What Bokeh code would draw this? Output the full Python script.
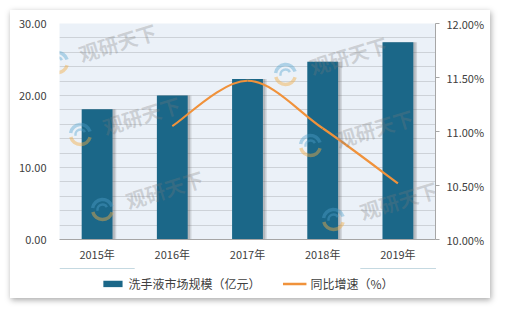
import numpy as np
from bokeh.plotting import figure
from bokeh.layouts import column
from bokeh.models import (Range1d, LinearAxis, FixedTicker, PrintfTickFormatter,
                          Legend, LegendItem, ColumnDataSource)
from bokeh.transform import dodge
from bokeh.core.properties import value
from bokeh.embed import file_html
from bokeh.resources import INLINE

# ---- data ----
years = ["2015年", "2016年", "2017年", "2018年", "2019年"]
market = [18.1, 20.0, 22.3, 24.7, 27.4]          # 洗手液市场规模（亿元）
growth_idx = [1, 2, 3, 4]                          # years that have growth data
growth = [11.05, 11.47, 11.03, 10.52]              # 同比增速（%）
left_ticks = [0, 10, 20, 30]
right_ticks = [10.0, 10.5, 11.0, 11.5, 12.0]
legend_labels = ["洗手液市场规模（亿元）", "同比增速（%）"]

FONT = "Noto Sans CJK SC"
BAR_COLOR = "#1B6788"
LINE_COLOR = "#F0923B"

# watermark decoration (page pixel positions)
wm_text_x = [117, 141, 164, 348, 374, 398]
wm_text_y = [42, 115, 189, 55, 128, 200]
wm_logo_x = [57, 80, 102, 285, 310, 333]
wm_logo_y = [62, 134, 209, 74, 145, 219]

p = figure(width=480, height=258, x_range=Range1d(-0.5, 4.5), y_range=Range1d(0, 30),
           output_backend="svg", toolbar_location=None,
           min_border_left=49, min_border_right=55, min_border_top=13, min_border_bottom=29)
p.outline_line_color = None
p.background_fill_color = "#EBF1F8"
p.border_fill_color = "white"

xs = list(range(len(years)))
src = ColumnDataSource(dict(x=xs, top=market))

# bar shadows
p.vbar(x=dodge("x", 0.035, range=p.x_range), top="top", width=0.44, source=src,
       fill_color="#555555", fill_alpha=0.18, line_color=None)
p.vbar(x=dodge("x", 0.02, range=p.x_range), top="top", width=0.43, source=src,
       fill_color="#555555", fill_alpha=0.22, line_color=None)
bars = p.vbar(x="x", top="top", width=0.41, source=src,
              fill_color=BAR_COLOR, line_color=None)

# extra ranges
p.extra_y_ranges = {"pct": Range1d(10, 12),
                    "py": Range1d(239, 23)}
p.extra_x_ranges = {"px": Range1d(59, 435)}

# smooth curve (Catmull-Rom -> cubic Bezier)
P = np.array([[float(i), g] for i, g in zip(growth_idx, growth)])
n = len(P)
x0, y0, x1, y1, cx0, cy0, cx1, cy1 = ([] for _ in range(8))
for i in range(n - 1):
    p0 = P[i - 1] if i > 0 else P[i]
    p1 = P[i]
    p2 = P[i + 1]
    p3 = P[i + 2] if i + 2 < n else P[i + 1]
    c0 = p1 + (p2 - p0) / 6.0
    c1 = p2 - (p3 - p1) / 6.0
    x0.append(p1[0]); y0.append(p1[1]); x1.append(p2[0]); y1.append(p2[1])
    cx0.append(c0[0]); cy0.append(c0[1]); cx1.append(c1[0]); cy1.append(c1[1])
p.bezier(x0=x0, y0=y0, x1=x1, y1=y1, cx0=cx0, cy0=cy0, cx1=cx1, cy1=cy1,
         line_color=LINE_COLOR, line_width=2.2, y_range_name="pct")

# watermarks
p.text(x=wm_text_x, y=wm_text_y, text=["观研天下"] * len(wm_text_x), angle=0.3,
       x_range_name="px", y_range_name="py", text_font=value(FONT),
       text_font_style="bold", text_font_size="20px", text_color="#7A7A7A",
       text_alpha=0.28, text_align="center", text_baseline="middle")
p.arc(x=wm_logo_x, y=wm_logo_y, radius=10, radius_units="screen",
      start_angle=0.3, end_angle=3.0, x_range_name="px", y_range_name="py",
      line_color="#4FA3CC", line_width=3.5, line_alpha=0.4)
p.arc(x=wm_logo_x, y=wm_logo_y, radius=5, radius_units="screen",
      start_angle=0.5, end_angle=3.4, x_range_name="px", y_range_name="py",
      line_color="#4FA3CC", line_width=2.5, line_alpha=0.4)
p.arc(x=wm_logo_x, y=wm_logo_y, radius=10, radius_units="screen",
      start_angle=3.4, end_angle=6.0, x_range_name="px", y_range_name="py",
      line_color="#F2AE45", line_width=3.5, line_alpha=0.45)

# axes
p.xaxis.ticker = FixedTicker(ticks=xs)
p.xaxis.major_label_overrides = {i: y for i, y in zip(xs, years)}
p.xaxis.major_tick_line_color = None
p.xaxis.major_tick_out = 0
p.xaxis.minor_tick_line_color = None
p.xaxis.axis_line_color = "#A6A6A6"
p.xaxis.major_label_standoff = 6
p.xaxis.major_label_text_font = FONT
p.xaxis.major_label_text_font_size = "11px"
p.xaxis.major_label_text_color = "#404040"

p.yaxis.ticker = FixedTicker(ticks=left_ticks)
p.yaxis.formatter = PrintfTickFormatter(format="%.2f")
p.yaxis.axis_line_color = None
p.yaxis.major_tick_line_color = None
p.yaxis.major_tick_out = 0
p.yaxis.minor_tick_line_color = None
p.yaxis.major_label_standoff = 13
p.yaxis.major_label_text_font = FONT
p.yaxis.major_label_text_font_size = "11px"
p.yaxis.major_label_text_color = "#404040"

rax = LinearAxis(y_range_name="pct", ticker=FixedTicker(ticks=right_ticks),
                 formatter=PrintfTickFormatter(format="%.2f%%"))
rax.axis_line_color = "#A6A6A6"
rax.major_tick_line_color = "#A6A6A6"
rax.major_tick_out = 4
rax.major_tick_in = 0
rax.minor_tick_line_color = None
rax.major_label_standoff = 7
rax.major_label_text_font = FONT
rax.major_label_text_font_size = "11px"
rax.major_label_text_color = "#404040"
p.add_layout(rax, "right")

p.xgrid.visible = False
p.ygrid.ticker = FixedTicker(ticks=list(range(0, 31, 2)))
p.ygrid.grid_line_color = "#CDD2D8"

# legend strip (renderers use the same series, kept outside its visible range)
leg = figure(width=480, height=30, x_range=Range1d(0, 1), y_range=Range1d(-3, -2),
             output_backend="svg", toolbar_location=None, x_axis_type=None, y_axis_type=None,
             min_border=0)
leg.outline_line_color = None
leg.background_fill_color = "white"
leg.border_fill_color = "white"
lb = leg.vbar(x=xs, top=market, bottom=[m * 0 + 1 for m in market], width=0.4,
              fill_color=BAR_COLOR, line_color=None)
ll = leg.line(x=growth_idx, y=growth, line_color=LINE_COLOR, line_width=2.5)
legend = Legend(items=[LegendItem(label=legend_labels[0], renderers=[lb]),
                       LegendItem(label=legend_labels[1], renderers=[ll])],
                orientation="horizontal", location="center",
                label_text_font=FONT, label_text_font_size="12px", label_text_color="#404040",
                glyph_width=24, glyph_height=8, spacing=22, label_standoff=4,
                margin=0, padding=0, border_line_color=None, background_fill_alpha=0)
leg.add_layout(legend)

layout = column(p, leg, spacing=0,
                styles={"margin-left": "10px", "margin-top": "10px",
                        "box-shadow": "1px 2px 6px rgba(0,0,0,0.35)",
                        "background-color": "white"})

open("out.html", "w").write(file_html(layout, INLINE))
